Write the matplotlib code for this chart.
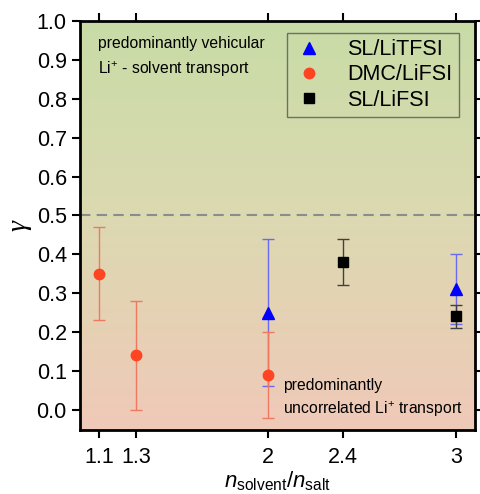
import numpy as np
import matplotlib.pyplot as plt
from matplotlib.colors import LinearSegmentedColormap

plt.rcParams['font.family'] = ['Liberation Sans', 'DejaVu Sans']
plt.rcParams['mathtext.fontset'] = 'custom'
plt.rcParams['mathtext.rm'] = 'Liberation Sans'
plt.rcParams['mathtext.it'] = 'Liberation Sans:italic'

# SL/LiTFSI
tfsi_x = [2.0, 3.0]
tfsi_y = [0.25, 0.31]
tfsi_lo = [0.06, 0.22]
tfsi_hi = [0.44, 0.40]

# DMC/LiFSI
dmc_x = [1.1, 1.3, 2.0]
dmc_y = [0.35, 0.14, 0.09]
dmc_lo = [0.23, 0.00, -0.02]
dmc_hi = [0.47, 0.28, 0.20]

# SL/LiFSI
sl_x = [2.4, 3.0]
sl_y = [0.38, 0.24]
sl_lo = [0.32, 0.21]
sl_hi = [0.44, 0.27]

xticks = [1.1, 1.3, 2, 2.4, 3]
xticklabels = ['1.1', '1.3', '2', '2.4', '3']

fig = plt.figure(figsize=(4.81, 4.94), dpi=100)
ax = fig.add_axes([80/481, 1 - 430/494, 395/481, 409/494])

xlim = (1.0, 3.1)
ylim = (-0.052, 1.0)

# background gradient
cmap = LinearSegmentedColormap.from_list('bg', [(0, '#f0c9b8'), (0.52, '#dcd9b1'), (1, '#c8dca6')])
grad = np.linspace(0, 1, 256).reshape(-1, 1)
ax.imshow(grad, cmap=cmap, aspect='auto', origin='lower',
          extent=[xlim[0], xlim[1], ylim[0], ylim[1]], zorder=0)

ax.axhline(0.5, color='#8c8c8c', linestyle=(0, (5, 3)), linewidth=1.5, zorder=1)

def yerr(y, lo, hi):
    y = np.array(y)
    return [y - np.array(lo), np.array(hi) - y]

ax.errorbar(tfsi_x, tfsi_y, yerr=yerr(tfsi_y, tfsi_lo, tfsi_hi), fmt='none',
            ecolor='#6a6af0', elinewidth=1, capsize=4, capthick=1, zorder=2)
ax.errorbar(dmc_x, dmc_y, yerr=yerr(dmc_y, dmc_lo, dmc_hi), fmt='none',
            ecolor='#f07860', elinewidth=1, capsize=4, capthick=1, zorder=2)
ax.errorbar(sl_x, sl_y, yerr=yerr(sl_y, sl_lo, sl_hi), fmt='none',
            ecolor='#404040', elinewidth=1, capsize=4, capthick=1, zorder=2)

ax.plot(tfsi_x, tfsi_y, '^', color='#0000ff', markersize=8.5, linestyle='none', label='SL/LiTFSI', zorder=3)
ax.plot(dmc_x, dmc_y, 'o', color='#ff4422', markersize=7.5, linestyle='none', label='DMC/LiFSI', zorder=3)
ax.plot(sl_x, sl_y, 's', color='#000000', markersize=7, linestyle='none', label='SL/LiFSI', zorder=3)

ax.set_xlim(*xlim)
ax.set_ylim(*ylim)
ax.set_xticks(xticks)
ax.set_xticklabels(xticklabels)
ax.set_yticks(np.arange(0, 1.01, 0.1))
ax.set_yticklabels([f'{v:.1f}' for v in np.arange(0, 1.01, 0.1)])
ax.tick_params(direction='out', length=6, width=1.5, labelsize=15.5, top=True, right=True)
ax.tick_params(axis='x', pad=6)
for s in ax.spines.values():
    s.set_linewidth(2)

ax.set_xlabel(r'$n_{\mathrm{solvent}}/n_{\mathrm{salt}}$', fontsize=16, labelpad=1)
ax.set_ylabel('γ', fontsize=20, labelpad=4, family=['Liberation Serif'], style='italic')

ax.text(0.046, 0.944, 'predominantly vehicular', transform=ax.transAxes, fontsize=11.3, va='center')
ax.text(0.046, 0.883, r'Li$^{+}$ - solvent transport', transform=ax.transAxes, fontsize=11.3, va='center')
ax.text(0.514, 0.110, 'predominantly', transform=ax.transAxes, fontsize=11.3, va='center')
ax.text(0.514, 0.051, r'uncorrelated Li$^{+}$ transport', transform=ax.transAxes, fontsize=11.3, va='center')

leg = ax.legend(loc='upper right', bbox_to_anchor=(0.97, 0.982), fontsize=15.5, frameon=True,
                fancybox=False, edgecolor='#555555', facecolor='none', borderpad=0.3,
                handletextpad=1.1, labelspacing=0.2, handlelength=1.4, borderaxespad=0.2)
leg.get_frame().set_linewidth(1)

fig.savefig('out.png', dpi=100)
